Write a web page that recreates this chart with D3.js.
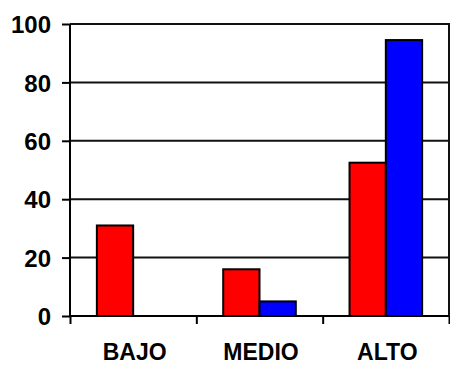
<!DOCTYPE html>
<html><head><meta charset="utf-8">
<script src="https://cdn.jsdelivr.net/npm/d3@7/dist/d3.min.js"></script>
<style>body{margin:0;background:#fff}svg{display:block}</style>
</head><body>
<svg id="c" width="450" height="365"></svg>
<script>
const categories = ["BAJO", "MEDIO", "ALTO"];
const seriesNames = ["s1", "s2"];
const redValues = [31, 16, 52.5];
const blueValues = [0, 5, 94.5];
const yTicks = [0, 20, 40, 60, 80, 100];
const colors = ["#ff0000", "#0000ff"];

const svg = d3.select("#c");
const L = 70, R = 449, T = 24, B = 316;
const font = "'Liberation Sans', Arial, sans-serif";

const y = d3.scaleLinear().domain([0, 100]).range([B, T]);
const p = 1 - 72.6 / ((R - L) / 3);
const x = d3.scaleBand().domain(categories).range([L, R]).paddingInner(p).paddingOuter(p / 2);
const xs = d3.scaleBand().domain(seriesNames).range([0, x.bandwidth()]);
const xEdge = d3.scaleLinear().domain([0, categories.length]).range([L, R]);

// gridlines
svg.append("g").selectAll("line").data(yTicks.filter(d => d > 0)).join("line")
  .attr("x1", L).attr("x2", R).attr("y1", d => y(d)).attr("y2", d => y(d))
  .attr("stroke", "#111").attr("stroke-width", 2);
// right border
svg.append("line").attr("x1", R).attr("x2", R).attr("y1", T - 1).attr("y2", B)
  .attr("stroke", "#111").attr("stroke-width", 2);

// bars
const data = categories.map((c, i) => ({c, vals: [redValues[i], blueValues[i]]}));
const g = svg.append("g").selectAll("g").data(data).join("g")
  .attr("transform", d => `translate(${x(d.c)},0)`);
g.selectAll("rect").data(d => d.vals.map((v, j) => ({v, s: seriesNames[j], j})).filter(e => e.v > 0))
  .join("rect")
  .attr("x", e => xs(e.s)).attr("width", xs.bandwidth())
  .attr("y", e => y(e.v)).attr("height", e => B - y(e.v))
  .attr("fill", e => colors[e.j]).attr("stroke", "#000").attr("stroke-width", 2);

// y axis
const ya = svg.append("g").attr("transform", `translate(${L},0)`)
  .call(d3.axisLeft(y).tickValues(yTicks).tickSize(8).tickPadding(11));
ya.selectAll("text").attr("font-family", font).attr("font-weight", "bold")
  .attr("font-size", 24).attr("fill", "#000").attr("dy", "0.36em");
ya.selectAll("line,path").attr("stroke", "#000").attr("stroke-width", 2);
ya.select("path").attr("d", `M0,${T}V${B}`);

// x axis
const xa = svg.append("g").attr("transform", `translate(0,${B})`)
  .call(d3.axisBottom(xEdge).tickValues(d3.range(categories.length + 1)).tickSize(8).tickFormat(""));
xa.selectAll("line,path").attr("stroke", "#000").attr("stroke-width", 2);
xa.select("path").attr("d", `M${L},0H${R}`);

svg.append("g").selectAll("text").data(categories).join("text")
  .attr("x", d => x(d) + x.bandwidth() / 2 + 1.5).attr("y", 360)
  .attr("text-anchor", "middle").attr("font-family", font).attr("font-weight", "bold")
  .attr("font-size", 23).attr("fill", "#000").text(d => d);
</script>
</body></html>
